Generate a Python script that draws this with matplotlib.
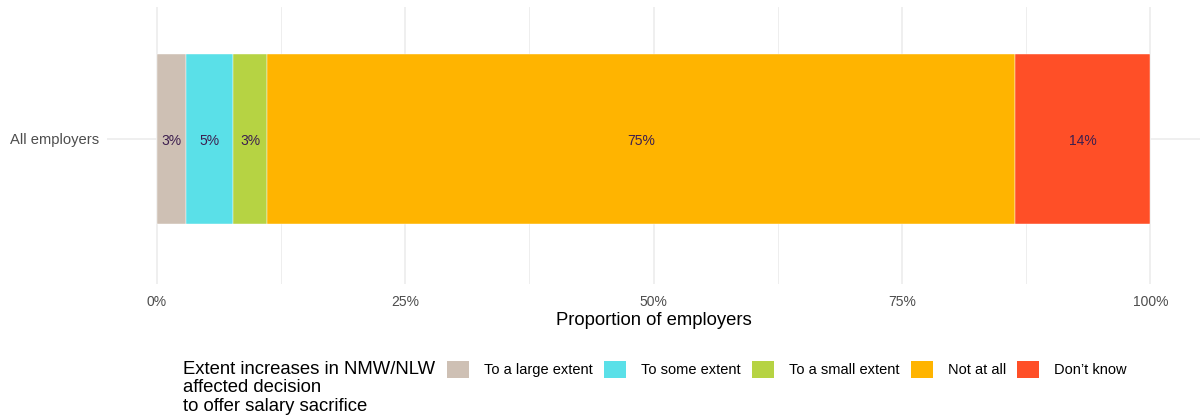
import matplotlib.pyplot as plt
from matplotlib.patches import Patch

plt.rcParams['font.family'] = ['Liberation Sans', 'DejaVu Sans']

category = "All employers"
responses = ["To a large extent", "To some extent", "To a small extent", "Not at all", "Don\u2019t know"]
shares = [2.9, 4.8, 3.4, 75.3, 13.6]
labels = ["3%", "5%", "3%", "75%", "14%"]
colors = ["#cec0b4", "#5ae0e8", "#b6d343", "#ffb400", "#ff4f27"]
ticks = [0, 25, 50, 75, 100]
tick_labels = ["0%", "25%", "50%", "75%", "100%"]

fig = plt.figure(figsize=(12, 4.18), dpi=100)
ax = fig.add_axes([0.0892, 0.3206, 0.9108, 0.6627])

left = 0
for val, lab, col in zip(shares, labels, colors):
    ax.barh(0, val, left=left, height=0.9, color=col, edgecolor="white", linewidth=0.3, zorder=3)
    ax.text(left + val / 2, -0.01, lab, ha="center", va="center", fontsize=10, color="#3d1f4f", zorder=4)
    left += val

ax.set_xlim(-5, 105)
ax.set_ylim(-0.768, 0.699)
ax.set_xticks(ticks)
ax.set_xticklabels(tick_labels)
ax.set_xticks([12.5, 37.5, 62.5, 87.5], minor=True)
ax.set_yticks([0])
ax.set_yticklabels([category])
ax.grid(True, which="major", color="#ebebeb", linewidth=1.1, zorder=0)
ax.grid(True, which="minor", axis="x", color="#ebebeb", linewidth=0.6, zorder=0)
ax.tick_params(axis="both", which="both", length=0, labelsize=10, labelcolor="#4d4d4d")
ax.tick_params(axis="y", labelsize=10.6, pad=6)
ax.tick_params(axis="x", pad=8)
for s in ax.spines.values():
    s.set_visible(False)
ax.set_xlabel("Proportion of employers", fontsize=13.3, labelpad=2)

fig.text(0.1525, 0.072, "Extent increases in NMW/NLW\naffected decision\nto offer salary sacrifice",
         fontsize=13.3, va="center", ha="left", linespacing=1.1)

handles = [Patch(facecolor=c, edgecolor="none") for c in colors]
fig.legend(handles, responses, loc="center left", bbox_to_anchor=(0.3725, 0.116), ncol=5,
           frameon=False, fontsize=10.5, handlelength=1.51, handleheight=1.51,
           handletextpad=1.02, columnspacing=0.78, borderpad=0, borderaxespad=0)

fig.savefig("out.png", dpi=100)
